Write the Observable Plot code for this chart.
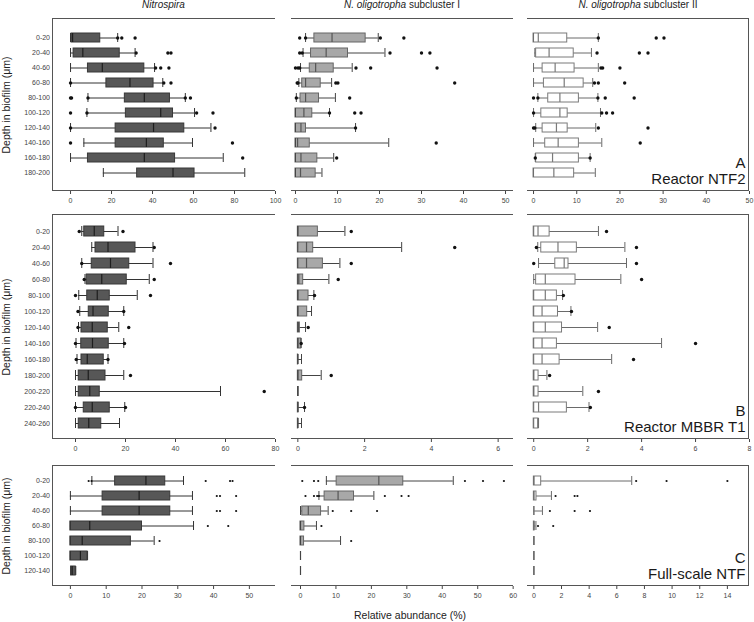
<!DOCTYPE html>
<html><head><meta charset="utf-8">
<script src="https://cdn.jsdelivr.net/npm/d3@7"></script>
<script src="https://cdn.jsdelivr.net/npm/@observablehq/plot@0.6"></script>
<style>
body{margin:0;background:#fff;}
#chart{position:relative;width:754px;height:622px;font-family:'Liberation Sans',Arial,sans-serif;color:#222;overflow:hidden;background:#fff;}
.title{position:absolute;top:0;font-size:10px;line-height:10px;white-space:nowrap;transform:translateX(-50%);}
.xlab{position:absolute;font-size:10.5px;line-height:11px;white-space:nowrap;transform:translateX(-50%);}
.ylab{position:absolute;font-size:10.5px;line-height:11px;white-space:nowrap;transform:translate(-50%,-50%) rotate(-90deg);}
.frame{position:absolute;box-sizing:border-box;border-top:1px solid #555;border-bottom:1px solid #555;pointer-events:none;}
</style></head><body><div id="chart"></div><script>
// ---------- categories ----------
const depthsA = ["0-20","20-40","40-60","60-80","80-100","100-120","120-140","140-160","160-180","180-200"];
const depthsB = ["0-20","20-40","40-60","60-80","80-100","100-120","120-140","140-160","160-180","180-200","200-220","220-240","240-260"];
const depthsC = ["0-20","20-40","40-60","60-80","80-100","100-120","120-140"];

// ---------- column titles / panel labels ----------
const columnTitles = ["<i>Nitrospira</i>", "<i>N. oligotropha</i> subcluster I", "<i>N. oligotropha</i> subcluster II"];
const panelLabels = ["A\nReactor NTF2", "B\nReactor MBBR T1", "C\nFull-scale NTF"];
const yTitle = "Depth in biofilm (\u03bcm)";
const xTitle = "Relative abundance (%)";

// ---------- tick values ----------
const ticksA = [[0,20,40,60,80,100],[0,10,20,30,40,50],[0,10,20,30,40,50]];
const ticksB = [[0,20,40,60,80],[0,2,4,6],[0,2,4,6,8]];
const ticksC = [[0,10,20,30,40,50],[0,10,20,30,40,50,60],[0,2,4,6,8,10,12,14]];

// ---------- box statistics: [lower whisker, Q1, median, Q3, upper whisker] ----------
// A: Reactor NTF2
const ntf2Nitrospira = [[0,0.5,1,14.5,23],[0,1.5,6,24,31.5],[0,8.5,15.5,36,41],[0,17.5,29,40.5,45],[8.5,26.5,36,48.5,56],[8,27,44,50,60.5],[0,22,40.5,55.5,68.5],[6.5,22,37,45.5,59.5],[0,8.5,36,51,74.5],[16,32.5,50,60.5,85]];
const ntf2NitrospiraOut = [[23,25,31.5],[32,47.5,49],[41.5,44,48],[0,45.5,49],[0,0.5,8.5,56,58.5],[0,8,61.5,69.5],[0,70.5],[0,79],[84],[]];
const ntf2SubI = [[2.4,4.5,8.7,16.7,19.7],[1.8,3.7,7.3,12.5,21.3],[1.2,3.4,4.8,9.1,13.5],[0.8,1.6,2.4,6,8.6],[0.2,1.2,2.4,5.6,9.5],[0,0,2,4,8.1],[0,0,1.3,2.5,14.3],[0,0,0.5,3.4,22.2],[0,0,1.3,5.2,9.1],[0,0,1.2,4.8,6.3]];
const ntf2SubIOut = [[1,2.4,20.2,25.8],[1,1.6,22.5,30,32],[0,0.6,1,14.4,17.9,33.7],[0.4,0.6,9.6,10.1,37.9],[0.2,12.9],[8.1,14.1,15.6],[14.3],[33.5],[9.8],[]];
const ntf2SubII = [[0,0,1.1,7.8,15],[0.3,0.6,3.6,9.3,13.4],[0,2.1,5,9.5,15],[0,2.4,7.1,11.6,13.7],[1,3.4,6.1,10.5,14.9],[0,1.8,6.1,7.9,15.5],[0.5,2.1,5.3,7.9,14.4],[0,2.7,5.7,10.5,15.8],[0.4,0.6,4.4,10.5,13.1],[0,0,4.7,9.4,14.3]];
const ntf2SubIIOut = [[15,28.4,30.2],[14.7,24.5,26.5],[15.6,16,20],[14.1,15,21.1],[0,1,14.9,16.6,23.3],[0,15.8,16.9,18.3],[0,0.3,15,26.5],[24.7],[0.4,13.1],[]];
// B: Reactor MBBR T1
const mbbrNitrospira = [[2.5,3.5,7.5,11.5,17],[6.5,8,13,24,31],[2.5,6.5,14,21.5,31],[3.8,4.5,10.5,20.5,29.5],[1.3,4.7,8.7,13.7,24.7],[1.7,5.3,7,13.3,19.3],[1.2,2.4,6.7,12.9,17.3],[0.2,2.3,6.8,13.3,19.3],[0.6,2.4,4.7,11.3,13],[0,1.3,5.1,12,19.3],[0,1.3,5.7,9.7,58],[0,3.3,6.7,13.7,19.7],[0,1.3,5.3,10.3,17.6]];
const mbbrNitrospiraOut = [[1.5,19],[31.5],[2.5,38],[3.5,31.5],[0,30],[1,19.3],[1,21.3],[0,19.6],[0.3,13],[22],[75.5],[0,20],[]];
const mbbrSubI = [[0,0,0,0.6,1.41],[0,0,0.26,0.46,3.11],[0,0,0.26,0.75,1.26],[0,0,0.03,0.16,0.93],[0,0,0,0.32,0.48],[0,0,0,0.28,0.41],[0,0,0.02,0.06,0.23],[0,0,0,0.1,0.1],[0,0,0,0.01,0.11],[0,0,0,0.13,0.7],[0,0,0,0,0],[0,0,0,0.02,0.2],[0,0,0,0.01,0.11]];
const mbbrSubIOut = [[1.6],[4.7],[1.6],[1.21],[0.5],[],[0.31],[0.1],[],[1.0],[],[0.2],[]];
const mbbrSubII = [[0,0,0.16,0.59,2.4],[0.15,0.28,0.9,1.6,3.38],[0.18,0.8,1.13,1.29,3.44],[0,0.09,0.43,1.55,3.23],[0,0,0.43,0.86,1.07],[0,0,0.31,0.9,1.38],[0,0,0.43,1.05,2.37],[0,0,0.31,0.86,4.74],[0,0,0.31,0.96,2.89],[0,0,0,0.18,0.49],[0,0,0,0.18,1.82],[0,0,0.18,1.23,2.05],[0,0,0.15,0.18,0.18]];
const mbbrSubIIOut = [[2.7],[0.1,3.81],[0,3.81],[4.0],[1.1],[1.4],[2.8],[6.0],[3.7],[0.59],[2.4],[2.1],[]];
// C: Full-scale NTF
const fullNitrospira = [[6,12.5,21.1,26.5,31.6],[0,9,19.2,27.9,34.1],[0,9,19.2,27.9,34.1],[0,0,5.4,20,34.4],[0,0,3.3,16.9,23.4],[0,0,2.8,4.8,4.8],[0.2,0.2,0.5,1.5,1.5]];
const fullNitrospiraOut = [[5.1,5.9,37.8,44.6,45.3],[40.9,41.8,46.3],[40.9,41.8,46.3],[38.4,44.1],[24.9],[],[]];
const fullSubI = [[7.3,10.2,22.1,29,43.1],[5.2,6.8,10.6,15.1,20.7],[0,0.5,2.2,5.8,7.8],[0,0,0,1.1,4.5],[0,0,0,1,11.3],[0,0,0,0,0],[0,0,0,0,0]];
const fullSubIOut = [[0.5,3.8,5,46.4,51.5,57.4],[1.4,3.8,4.7,5.2,23.8,28.5,30.5],[9.1,14.3,21.6],[5.9],[14.3],[],[]];
const fullSubII = [[0,0,0,0.53,7.08],[0,0,0,0.19,1.27],[0,0,0,0,0.62],[0,0,0,0.05,0.15],[0,0,0,0,0],[0,0,0,0,0],[0,0,0,0,0]];
const fullSubIIOut = [[7.4,9.6,14.0],[1.57,2.95,3.15],[1.16,2.95,4.06],[0.3,1.4],[],[],[]];

// ---------- layout ----------
const chart = document.getElementById("chart");
const FONT = "'Liberation Sans', Arial, sans-serif";
const cols = [[52, 275], [291, 513], [527, 749]];
const rowsY = [[18, 191], [214, 439], [465, 586]];
const domains = [
  [[-8.8, 100], [-0.95, 51.9], [-1.4, 50]],
  [[-9.2, 80], [-0.19, 6.46], [-0.23, 8]],
  [[-5, 57.3], [-2.54, 60.1], [-0.46, 15.6]]
];
const colStyle = [
  {fill: "#575757", stroke: "#383838", whisker: "#333", median: "#1e1e1e"},
  {fill: "#a8a8a8", stroke: "#666", whisker: "#444", median: "#555"},
  {fill: "#ffffff", stroke: "#7a7a7a", whisker: "#6a6a6a", median: "#7a7a7a"}
];

function drawCell(r, c, cats, stats, outs, ticks, dotR) {
  const [x0, x1] = cols[c], [y0, y1] = rowsY[r];
  const ml = c === 0 ? x0 : 10, mr = 8, mt = 4, mb = 18;
  const rows = cats.map((cat, i) => ({cat, lw: stats[i][0], q1: stats[i][1], med: stats[i][2], q3: stats[i][3], uw: stats[i][4]}));
  const pts = cats.flatMap((cat, i) => outs[i].map(v => ({cat, v})));
  const st = colStyle[c];
  const marks = [
    Plot.ruleY(rows, {y: "cat", x1: "lw", x2: "uw", stroke: st.whisker, strokeWidth: 1}),
    Plot.barX(rows, {y: "cat", x1: "q1", x2: "q3", fill: st.fill, stroke: st.stroke, strokeWidth: 1}),
    Plot.tickX(rows, {y: "cat", x: "med", stroke: st.median, strokeWidth: 1.2}),
    Plot.tickX(rows, {y: "cat", x: "lw", stroke: st.whisker, strokeWidth: 1}),
    Plot.tickX(rows, {y: "cat", x: "uw", stroke: st.whisker, strokeWidth: 1}),
    Plot.dot(pts, {y: "cat", x: "v", r: dotR, fill: "#111", stroke: "none"})
  ];
  if (c === 2) {
    marks.push(Plot.text([panelLabels[r]], {frameAnchor: "bottom-right", text: d => d, textAnchor: "end", lineAnchor: "bottom", fontSize: 15, lineHeight: 1.05, dx: -4, dy: -8, fill: "#1a1a1a"}));
  }
  const svg = Plot.plot({
    width: ml + (x1 - x0) + mr,
    height: mt + (y1 - y0) + mb,
    marginLeft: ml, marginRight: mr, marginTop: mt, marginBottom: mb,
    x: {domain: domains[r][c], ticks, tickSize: 3, tickPadding: 3.5, tickFormat: d => String(d), label: null},
    y: {type: "band", domain: cats, paddingInner: 0.4, paddingOuter: 0.7, axis: c === 0 ? "left" : null, tickSize: 0, tickPadding: 2.5, label: null},
    style: {background: "transparent", fontFamily: FONT, fontSize: "7px", color: "#444", overflow: "visible"},
    marks
  });
  svg.style.position = "absolute";
  svg.style.left = (x0 - ml) + "px";
  svg.style.top = (y0 - mt) + "px";
  svg.style.maxWidth = "none";
  chart.appendChild(svg);
  const f = document.createElement("div");
  f.className = "frame";
  f.style.left = x0 + "px"; f.style.top = y0 + "px";
  f.style.width = (x1 - x0) + "px"; f.style.height = (y1 - y0) + "px";
  if (c === 0) f.style.borderLeft = "1px solid #555";
  if (c === 2) f.style.borderRight = "1px solid #555";
  chart.appendChild(f);
}

drawCell(0, 0, depthsA, ntf2Nitrospira, ntf2NitrospiraOut, ticksA[0], 1.7);
drawCell(0, 1, depthsA, ntf2SubI, ntf2SubIOut, ticksA[1], 1.7);
drawCell(0, 2, depthsA, ntf2SubII, ntf2SubIIOut, ticksA[2], 1.7);
drawCell(1, 0, depthsB, mbbrNitrospira, mbbrNitrospiraOut, ticksB[0], 1.7);
drawCell(1, 1, depthsB, mbbrSubI, mbbrSubIOut, ticksB[1], 1.7);
drawCell(1, 2, depthsB, mbbrSubII, mbbrSubIIOut, ticksB[2], 1.7);
drawCell(2, 0, depthsC, fullNitrospira, fullNitrospiraOut, ticksC[0], 1.1);
drawCell(2, 1, depthsC, fullSubI, fullSubIOut, ticksC[1], 1.1);
drawCell(2, 2, depthsC, fullSubII, fullSubIIOut, ticksC[2], 1.1);

// titles and axis titles
cols.forEach(([a, b], i) => {
  const d = document.createElement("div");
  d.className = "title"; d.innerHTML = columnTitles[i];
  d.style.left = ((a + b) / 2) + "px";
  chart.appendChild(d);
});
rowsY.forEach(([a, b]) => {
  const d = document.createElement("div");
  d.className = "ylab"; d.textContent = yTitle;
  d.style.left = "6px"; d.style.top = ((a + b) / 2) + "px";
  chart.appendChild(d);
});
{
  const d = document.createElement("div");
  d.className = "xlab"; d.textContent = xTitle;
  d.style.left = "410px"; d.style.top = "610px";
  chart.appendChild(d);
}
</script></body></html>
